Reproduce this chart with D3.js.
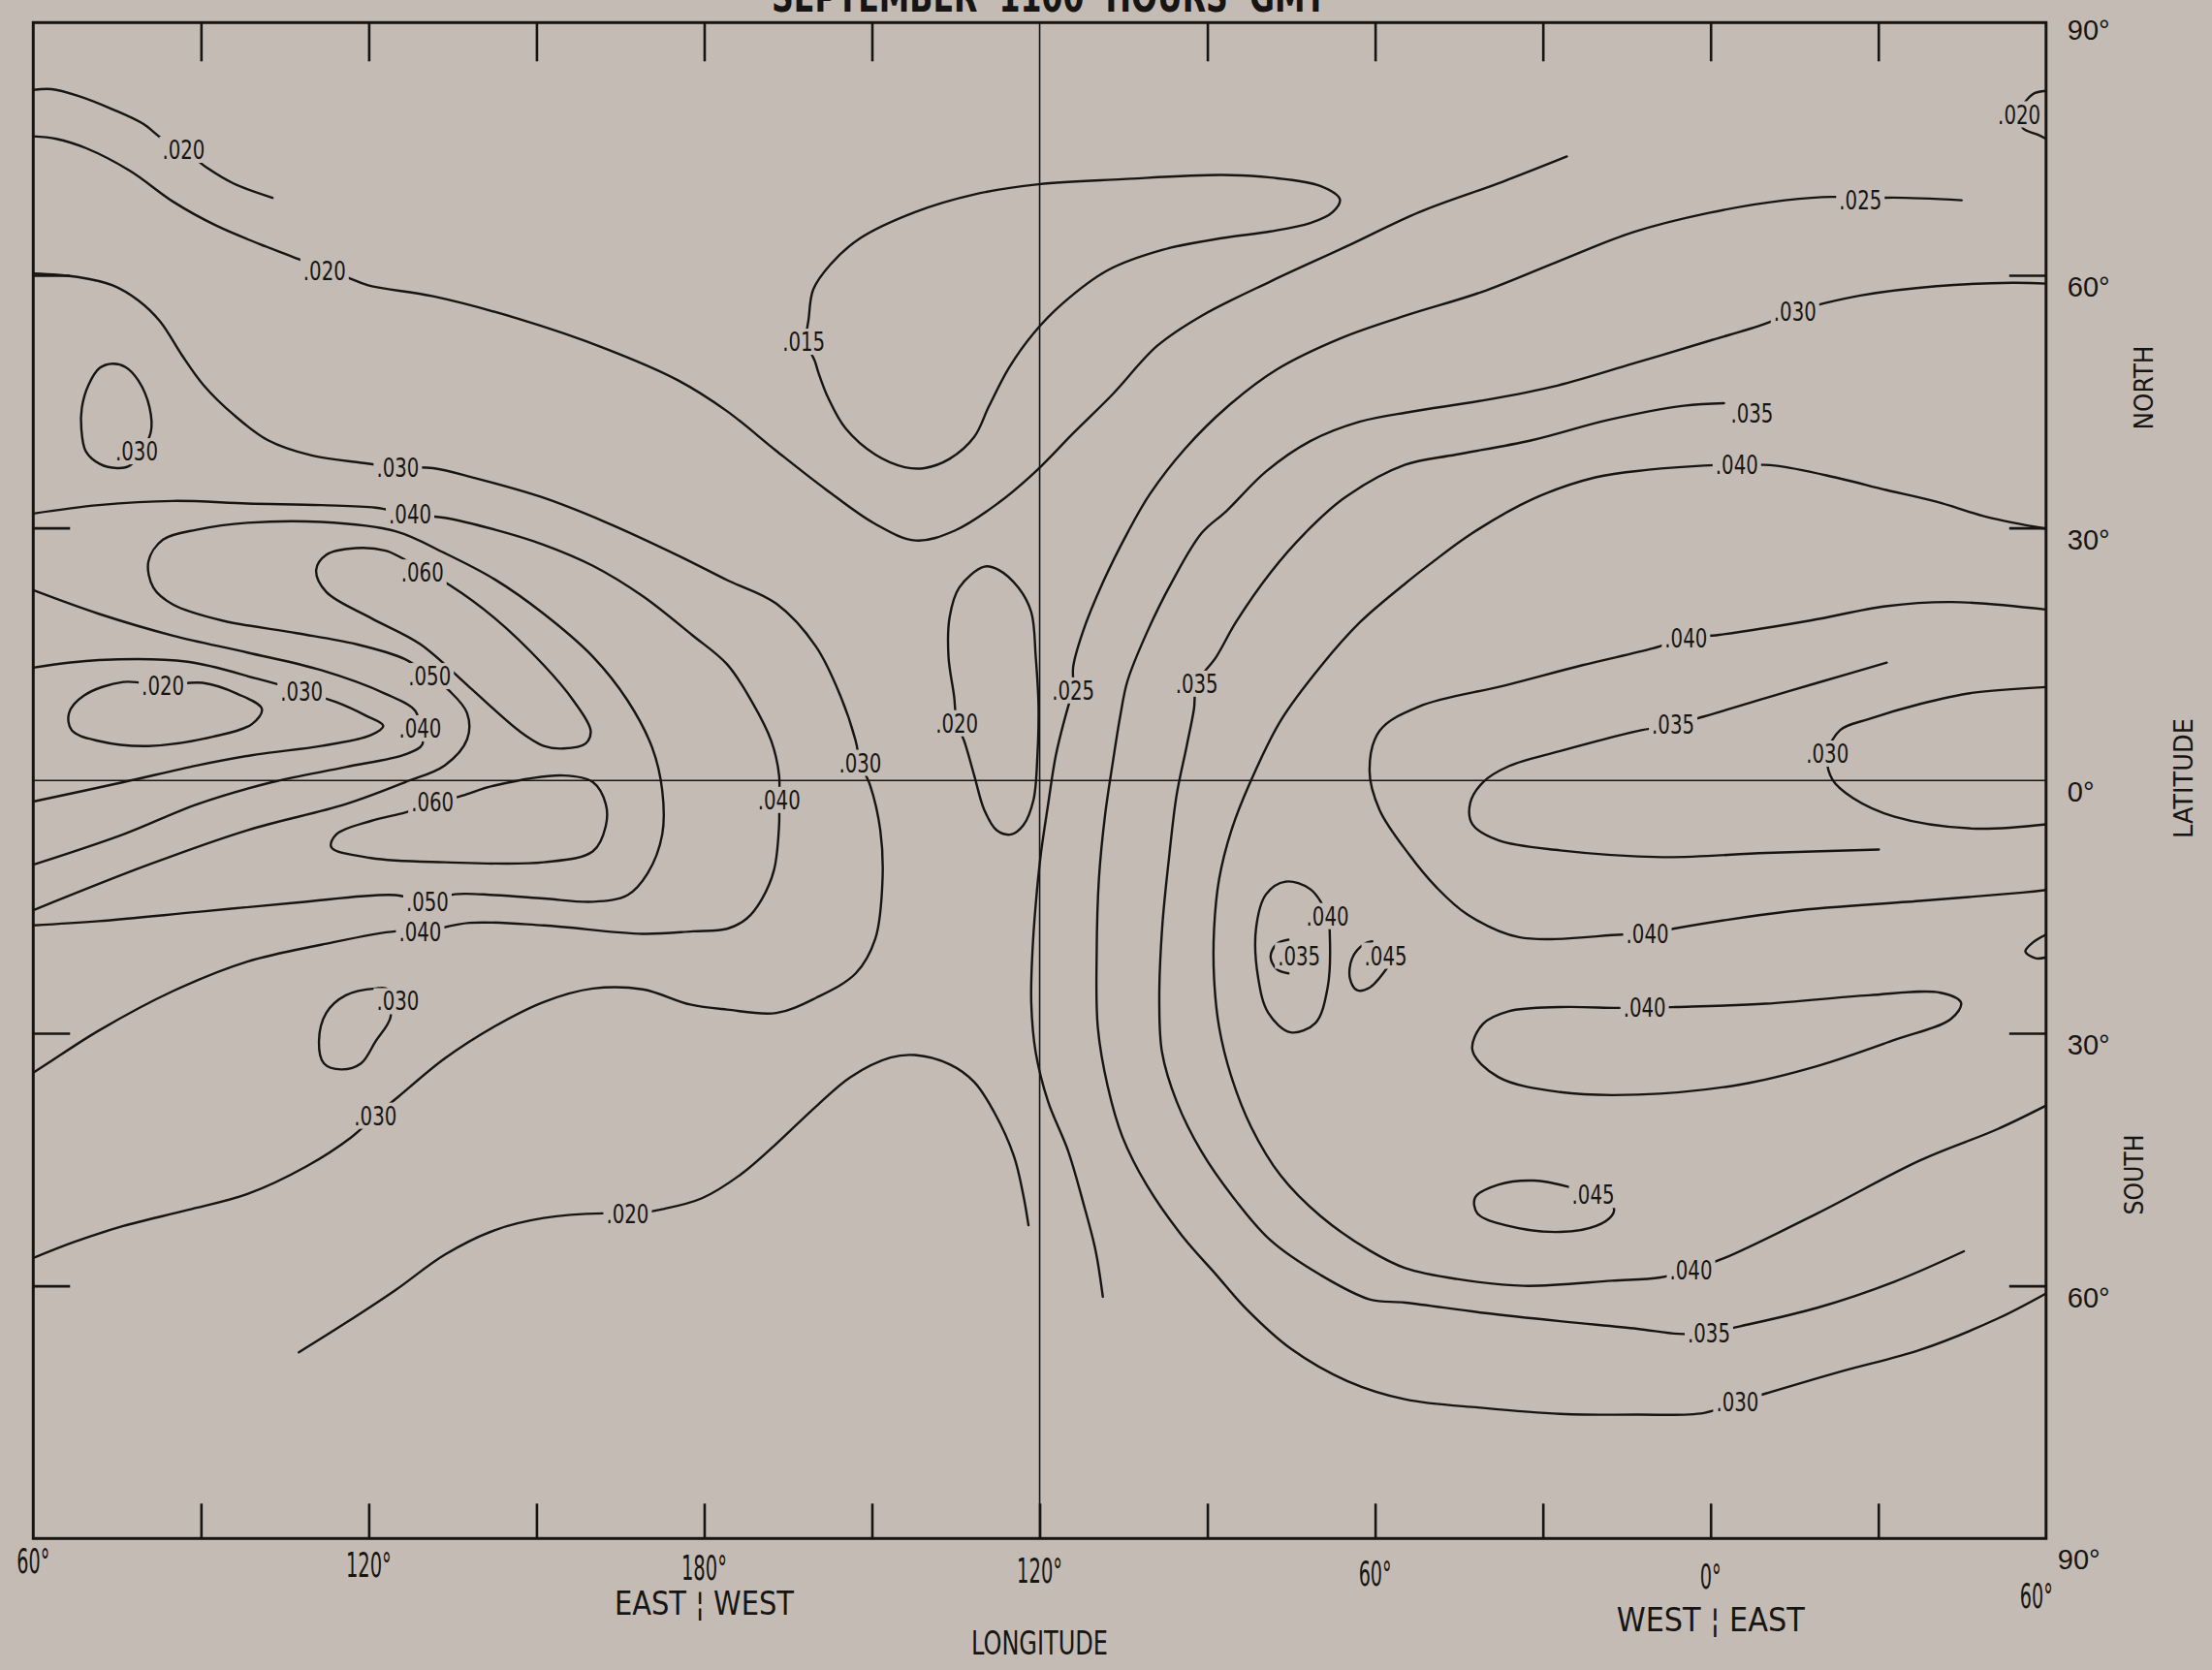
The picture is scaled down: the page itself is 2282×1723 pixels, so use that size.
<!DOCTYPE html>
<html>
<head>
<meta charset="utf-8">
<script src="https://cdn.jsdelivr.net/npm/d3@7/dist/d3.min.js"></script>
<style>
html,body{margin:0;padding:0;background:#c4bcb4;}
svg{display:block;}
</style>
</head>
<body>
<svg id="chart" width="2282" height="1723"></svg>
<script>
// ---------------- DATA (longitude = degrees east, unwrapped 60..420; latitude -90..90) ----------------
const titleText = "SEPTEMBER  1100  HOURS  GMT";
const lonTickValues = [90,120,150,180,210,240,270,300,330,360,390];
const lonLabelValues = [60,120,180,240,300,360,420];
const lonLabelText = ["60°","120°","180°","120°","60°","0°","60°"];
const latTickValues = [60,30,-30,-60];
const latLabelValues = [90,60,30,0,-30,-60,-90];
const latLabelText = ["90°","60°","30°","0°","30°","60°","90°"];

// contour polylines [lon, lat]
const c_a020 = [[60,82.0],[63.3,82.1],[68.0,81.3],[74.2,79.7],[79.6,78.0],[83.1,76.2],[86.9,74.9],[91.2,72.7],[95.8,70.9],[102.8,69.2]];
const c_b020 = [[60,76.5],[64.1,76.2],[69.4,75.1],[77.3,72.4],[85.1,68.7],[92.7,65.9],[100.5,63.7],[107.5,61.9],[112.1,60.5],[115.9,59.8],[119.9,58.8],[131.5,57.5],[146.9,54.8],[162.3,51.3],[175.4,47.5],[184.0,43.9],[192.8,39.2],[201.7,34.6],[210.5,30.5],[217.8,28.5],[224.9,29.7],[232.7,33.0],[239.3,36.7],[246.1,41.3],[253.1,45.9],[261.0,51.6],[269.0,55.2],[281.4,59.3],[294.8,63.4],[307.9,67.5],[322.8,71.1],[334.3,74.1]];
const c_c030 = [[60,60.2],[67.9,59.8],[74.2,58.8],[78.8,57.0],[82.7,54.5],[86.6,50.5],[90.4,47.0],[95.9,43.4],[102.0,40.4],[109.8,38.6],[119.1,37.7],[125.2,37.2],[131.5,37.1],[139.1,35.9],[150.7,33.7],[162.3,30.7],[175.4,26.7],[184.1,23.8],[192.9,21.0],[200.0,15.9],[204.4,10.0],[207.1,4.7],[207.9,2.1],[209.7,-0.6],[211.5,-5.9],[211.9,-11.7],[210.6,-18.8],[207.1,-22.9],[200.0,-25.8],[192.9,-27.6],[184.1,-27.2],[177.5,-26.6],[169.0,-24.8],[160.1,-24.7],[151.3,-26.3],[142.5,-29.2],[133.6,-33.0],[125.2,-37.6],[121.2,-39.8],[116.8,-42.4],[108.9,-45.8],[98.3,-49.1],[87.6,-51.0],[76.1,-52.9],[67.3,-54.8],[60,-56.7]];
const c_d030 = [[81.0,41.3],[80.8,44.3],[78.8,47.5],[76.5,49.1],[74.2,49.5],[71.9,49.0],[69.9,47.0],[68.7,44.3],[68.6,41.8],[69.4,39.1],[71.9,37.6],[75.0,37.1],[77.3,37.4]];
const c_e040 = [[60,31.7],[71.7,32.7],[85.0,33.2],[98.3,32.9],[111.5,32.7],[121.2,32.4],[127.4,31.6],[133.6,31.2],[142.5,29.8],[151.3,28.0],[160.1,25.5],[169.0,21.9],[177.8,17.3],[184.1,13.8],[188.5,9.4],[192.0,4.7],[193.4,0.6],[193.4,-2.3],[193.4,-5.3],[192.5,-10.6],[190.3,-14.1],[187.6,-16.4],[184.1,-17.6],[178.0,-17.9],[169.0,-18.2],[151.3,-17.2],[138.0,-16.9],[129.2,-18.0],[124.8,-17.9],[111.5,-19.5],[98.3,-21.5],[85.0,-25.0],[71.7,-29.7],[63.0,-33.4],[60,-34.7]];
const c_f050 = [[60,-15.4],[80.6,-10.0],[98.3,-5.9],[115.9,-2.8],[126.5,-0.2],[133.6,1.8],[137.6,4.9],[137.6,8.0],[134.5,10.6],[130.9,12.4],[126.5,14.4],[117.7,16.2],[107.1,17.5],[93.8,19.0],[85.0,20.9],[81.5,22.9],[80.6,26.0],[83.2,28.6],[89.4,29.8],[98.3,30.6],[111.5,30.7],[124.8,29.6],[133.6,27.0],[142.5,23.9],[151.3,19.8],[160.1,14.7],[166.3,9.5],[170.7,3.9],[172.5,-1.2],[172.5,-6.4],[169.9,-11.0],[166.3,-13.6],[160.1,-14.4],[151.3,-14.0],[142.5,-13.6],[135.4,-13.5],[130.5,-14.4],[124.8,-13.6],[107.1,-14.5],[89.4,-15.6],[71.7,-16.7],[60,-17.2]];
const c_g040 = [[60,22.6],[71.7,19.8],[85.0,17.2],[98.3,15.2],[111.5,13.1],[123.0,10.3],[128.3,8.3],[129.2,6.2],[129.6,4.3],[126.5,3.1],[115.9,1.6],[102.7,-0.2],[89.4,-2.8],[76.1,-6.4],[60,-10.0]];
const c_h030 = [[60,13.4],[71.7,14.3],[87.6,14.1],[100.0,12.1],[108.0,10.6],[114.2,9.3],[119.5,7.7],[122.6,6.5],[120.4,5.4],[111.5,4.1],[100.0,3.1],[89.4,1.8],[76.1,-0.2],[60,-2.5]];
const c_i020 = [[66.4,8.0],[69.1,10.1],[76.1,11.7],[83.2,11.3],[90.3,11.6],[96.5,10.3],[100.9,8.5],[99.1,6.7],[92.1,5.2],[80.6,4.1],[71.7,4.7],[66.9,5.95]];
const c_j060 = [[134.5,23.2],[142.5,19.3],[151.3,13.7],[156.6,9.5],[159.7,5.9],[158.8,4.4],[154.8,3.8],[151.3,4.1],[146.9,5.9],[138.0,11.1],[129.2,16.2],[120.4,19.3],[112.4,22.4],[110.6,25.0],[112.4,26.8],[117.7,27.6],[123.0,27.3],[125.7,26.5],[129.6,25.0]];
const c_k060 = [[136.7,-1.8],[142.5,-0.6],[154.8,0.6],[160.1,-0.2],[162.4,-2.8],[162.4,-5.4],[160.1,-8.4],[151.3,-9.7],[133.6,-9.7],[120.4,-9.2],[113.3,-7.9],[114.2,-6.4],[120.4,-4.8],[126.5,-3.8],[131.4,-2.8]];
const c_l030 = [[123.9,-28.1],[121.2,-31.0],[118.6,-33.6],[115.1,-34.3],[112.0,-33.6],[111.1,-31.0],[112.4,-27.6],[115.9,-25.5],[121.2,-24.7],[123.4,-24.8]];
const c_m020 = [[107.5,-67.9],[115.9,-64.4],[124.8,-60.5],[133.6,-56.3],[142.5,-53.4],[151.3,-51.95],[161.9,-51.4],[166.3,-51.5],[172.5,-50.9],[179.6,-49.6],[186.7,-46.7],[192.8,-43.2],[200.0,-38.7],[206.2,-35.2],[213.3,-32.9],[217.7,-32.6],[223.9,-33.7],[228.3,-35.8],[231.8,-39.3],[235.4,-44.6],[237.1,-49.3],[238.0,-52.8]];
const c_n015 = [[198.7,54.9],[199.5,58.3],[202.6,61.3],[207.9,64.4],[217.7,67.5],[228.3,69.6],[239.8,70.8],[254.8,71.4],[272.5,71.9],[281.3,71.6],[290.2,70.6],[293.7,69.0],[292.4,67.5],[288.4,66.2],[281.3,65.2],[272.5,64.4],[261.9,63.0],[252.2,60.6],[244.2,56.7],[238.9,53.1],[234.5,49.0],[230.9,44.4],[228.3,40.8],[223.9,38.2],[219.4,37.1],[215.9,37.2],[210.6,38.7],[205.3,41.8],[202.2,45.4],[200.4,48.5],[199.8,49.8],[198.3,52.1]];
const c_o020 = [[238.9,-2.3],[237.1,-5.3],[234.9,-6.4],[232.3,-5.9],[230.1,-3.5],[228.3,0.6],[226.5,4.7],[225.2,6.8],[224.7,10.0],[223.7,14.7],[223.9,19.4],[225.6,22.9],[230.1,25.4],[232.7,25.0],[236.2,22.9],[238.5,20.0],[239.3,14.7],[239.8,8.8],[239.6,3.0]];
const c_p025 = [[404.9,68.9],[391.3,69.2],[386.8,68.9],[382.3,69.3],[373.3,68.9],[359.7,67.4],[346.1,65.1],[332.6,61.6],[319.0,58.0],[305.4,55.2],[293.8,52.5],[282.4,48.8],[273.6,44.4],[266.0,39.4],[259.7,34.0],[255.7,29.4],[251.3,23.5],[247.7,17.6],[246.0,13.5],[246.0,10.7],[245.1,8.8],[242.9,3.0],[241.5,-2.9],[240.2,-8.8],[239.3,-14.7],[238.7,-20.5],[238.5,-26.4],[239.3,-32.3],[241.5,-38.1],[245.1,-44.0],[247.7,-49.9],[250.0,-55.8],[251.3,-61.3]];
const c_q030 = [[420,59.0],[414.0,59.1],[400.4,58.7],[386.8,57.6],[380.5,56.7],[375.1,55.7],[369.6,54.2],[359.7,52.2],[346.1,49.5],[332.6,46.9],[319.0,45.1],[306.5,43.8],[297.2,42.6],[288.4,40.3],[280.5,36.7],[273.4,32.0],[269.0,29.4],[263.6,23.5],[259.2,17.6],[255.7,11.8],[254.4,7.6],[253.0,1.8],[251.7,-4.1],[250.6,-11.7],[250.2,-20.5],[250.4,-29.3],[252.2,-36.4],[254.8,-42.3],[259.2,-48.1],[265.4,-54.0],[271.6,-58.7],[276.9,-62.7],[285.0,-67.5],[295.0,-71.3],[305.5,-73.5],[319.3,-74.5],[333.1,-75.2],[346.9,-75.3],[358.8,-75.1],[364.8,-73.8],[370.8,-72.6],[383.7,-70.1],[397.5,-67.6],[411.3,-63.9],[420,-60.9]];
const c_r035 = [[362.4,44.8],[355.2,44.5],[341.6,42.8],[328.0,40.4],[314.5,38.7],[305.4,37.5],[294.6,33.6],[287.5,29.4],[281.3,24.7],[275.1,18.8],[271.6,14.7],[268.1,11.5],[267.6,8.5],[266.3,4.1],[264.5,-1.7],[263.2,-8.8],[261.9,-17.6],[261.4,-26.4],[261.9,-32.3],[264.5,-38.1],[268.9,-44.0],[275.1,-49.9],[281.3,-54.6],[290.2,-58.7],[299.0,-61.6],[305.4,-62.0],[319.3,-63.2],[333.1,-64.2],[346.9,-65.1],[354.2,-65.7],[359.7,-65.6],[365.3,-64.8],[379.1,-62.6],[392.9,-59.5],[405.3,-55.9]];
const c_s040 = [[420,29.9],[409.4,31.3],[400.4,33.1],[391.4,34.5],[382.3,36.0],[371.5,37.4],[364.7,37.5],[358.8,37.4],[348.9,36.9],[339.4,36.0],[328.1,33.4],[317.2,29.3],[310.0,25.8],[305.4,23.4],[297.3,18.8],[290.2,13.5],[283.1,7.1],[277.8,0.0],[274.3,-5.9],[272.1,-11.7],[271.2,-17.6],[271.2,-23.5],[272.1,-29.3],[274.3,-35.2],[277.8,-41.1],[283.1,-46.9],[290.2,-51.7],[299.0,-55.8],[305.4,-57.9],[314.7,-59.2],[326.6,-60.0],[342.3,-59.4],[351.0,-59.0],[356.5,-58.1],[362.5,-56.7],[379.1,-51.4],[397.5,-45.1],[411.3,-41.4],[420,-38.6]];
const c_t040 = [[420,20.3],[403.1,21.2],[391.3,20.7],[377.8,19.0],[361.5,17.3],[355.6,16.9],[349.7,15.7],[337.1,13.7],[323.3,11.3],[307.9,8.8],[300.8,5.9],[299.0,1.2],[300.8,-3.5],[306.1,-8.8],[311.0,-12.7],[316.5,-15.9],[325.7,-18.6],[344.1,-18.3],[348.7,-18.2],[353.3,-17.6],[374.4,-15.5],[397.4,-14.3],[415.8,-13.3],[420,-13.0]];
const c_u035 = [[391.5,14.0],[379.1,11.6],[369.9,9.8],[358.8,7.6],[353.3,6.6],[347.8,6.0],[333.1,3.5],[323.9,1.7],[319.3,-0.2],[317.0,-2.7],[317.4,-5.2],[322.0,-7.1],[333.1,-8.3],[351.4,-9.1],[369.9,-8.6],[390.1,-8.2]];
const c_v030 = [[420,11.1],[406.7,10.4],[397.5,9.1],[388.3,7.3],[383.2,6.0],[380.9,3.2],[381.8,0.1],[385.5,-2.1],[392.9,-4.3],[406.7,-5.7],[420,-5.2]];
const c_w040 = [[353.8,-26.9],[369.9,-26.5],[388.3,-25.5],[401.1,-25.2],[404.8,-26.4],[403.0,-28.3],[392.9,-30.8],[379.1,-33.9],[365.3,-36.1],[346.9,-37.3],[333.1,-37.0],[322.0,-35.2],[317.4,-32.0],[319.3,-28.9],[323.9,-27.4],[333.1,-26.9],[343.2,-27.0],[348.2,-27.0]];
const c_x040 = [[420,-18.3],[417.7,-19.2],[416.3,-20.3],[418.1,-21.1],[420,-21.0]];
const c_y045 = [[334.9,-48.3],[328.4,-47.5],[322.0,-48.0],[317.9,-49.5],[318.3,-51.4],[323.9,-52.9],[333.1,-53.6],[339.5,-52.9],[342.3,-51.7],[342.7,-50.8],[339.0,-49.2]];
const c_z040 = [[288.4,-12.9],[284.0,-12.0],[280.5,-13.5],[278.7,-17.6],[279.1,-23.5],[280.9,-27.6],[284.9,-29.9],[289.3,-28.8],[291.5,-24.6],[291.9,-18.5],[291.5,-16.1]];
const c_z035 = [[284.5,-18.9],[282.4,-19.4],[281.3,-20.9],[282.4,-22.4],[284.5,-22.9]];
const c_z045 = [[299.5,-19.1],[298.1,-19.4],[295.9,-21.1],[295.5,-23.5],[296.8,-24.9],[299.0,-24.6],[302.1,-22.3]];
const c_top020 = [[420,81.9],[417.6,81.5],[415.5,79.6],[415.8,77.5],[418.5,76.7],[420,76.2]];

const contours = [
  {level:0.020, closed:false, pts:c_a020},
  {level:0.020, closed:false, pts:c_b020},
  {level:0.030, closed:false, pts:c_c030},
  {level:0.030, closed:true,  pts:c_d030},
  {level:0.040, closed:false, pts:c_e040},
  {level:0.050, closed:false, pts:c_f050},
  {level:0.040, closed:false, pts:c_g040},
  {level:0.030, closed:false, pts:c_h030},
  {level:0.020, closed:true,  pts:c_i020},
  {level:0.060, closed:true,  pts:c_j060},
  {level:0.060, closed:true,  pts:c_k060},
  {level:0.030, closed:true,  pts:c_l030},
  {level:0.020, closed:false, pts:c_m020},
  {level:0.015, closed:true,  pts:c_n015},
  {level:0.020, closed:true,  pts:c_o020},
  {level:0.025, closed:false, pts:c_p025},
  {level:0.030, closed:false, pts:c_q030},
  {level:0.035, closed:false, pts:c_r035},
  {level:0.040, closed:false, pts:c_s040},
  {level:0.040, closed:false, pts:c_t040},
  {level:0.035, closed:false, pts:c_u035},
  {level:0.030, closed:false, pts:c_v030},
  {level:0.040, closed:true,  pts:c_w040},
  {level:0.040, closed:false, pts:c_x040},
  {level:0.045, closed:true,  pts:c_y045},
  {level:0.040, closed:true,  pts:c_z040},
  {level:0.035, closed:false, pts:c_z035},
  {level:0.045, closed:false, pts:c_z045},
  {level:0.020, closed:false, pts:c_top020}
];

// contour labels [lon, lat, text]
const labels = [
  [86.9,74.9,".020"],[112.1,60.5,".020"],[78.5,39.1,".030"],[125.2,37.2,".030"],
  [127.4,31.6,".040"],[129.6,24.7,".060"],[130.9,12.4,".050"],[83.2,11.3,".020"],
  [108.0,10.6,".030"],[129.2,6.2,".040"],[131.4,-2.5,".060"],[130.5,-14.4,".050"],
  [129.2,-18.0,".040"],[125.2,-26.2,".030"],[121.2,-39.8,".030"],[166.3,-51.5,".020"],
  [197.8,52.1,".015"],[193.4,-2.3,".040"],[207.9,2.1,".030"],[225.2,6.8,".020"],
  [246.0,10.7,".025"],[268.1,11.5,".035"],[291.5,-16.1,".040"],[286.4,-20.8,".035"],
  [301.9,-20.8,".045"],[415.2,79.1,".020"],[386.8,68.9,".025"],[375.1,55.7,".030"],
  [367.4,43.6,".035"],[364.7,37.5,".040"],[355.6,16.9,".040"],[353.3,6.6,".035"],
  [380.9,3.2,".030"],[348.7,-18.2,".040"],[348.2,-27.0,".040"],[339.0,-49.2,".045"],
  [356.5,-58.1,".040"],[359.7,-65.6,".035"],[364.8,-73.8,".030"]
];

// ---------------- DRAWING ----------------
const W = 2282, H = 1723;
const BG = "#c4bcb4", INK = "#171513";
const COND = "'Liberation Sans Narrow','DejaVu Sans Condensed','Roboto Condensed','Liberation Sans',Arial,sans-serif";
const REG = "'Liberation Sans',Arial,'DejaVu Sans',sans-serif";
const plot = {left:34.3, right:2110.8, top:23.3, bottom:1587.3};

const x = d3.scaleLinear().domain([60,420]).range([plot.left, plot.right]);
const y = d3.scaleLinear().domain([90,-90]).range([plot.top, plot.bottom]);

const svg = d3.select("#chart");
svg.append("rect").attr("width",W).attr("height",H).attr("fill",BG);

// title (mostly cut off at top edge in the original)
svg.append("text").attr("x",1082).attr("y",12)
  .attr("text-anchor","middle").attr("font-family",COND).attr("font-weight","bold")
  .attr("font-size",44).attr("fill",INK).style("white-space","pre")
  .attr("textLength",572).attr("lengthAdjust","spacingAndGlyphs").text(titleText);

const defs = svg.append("defs");
defs.append("clipPath").attr("id","plotclip").append("rect")
  .attr("x",plot.left).attr("y",plot.top)
  .attr("width",plot.right-plot.left).attr("height",plot.bottom-plot.top);

// reference lines: 120°W meridian and equator
svg.append("line").attr("x1",x(240)).attr("x2",x(240)).attr("y1",plot.top).attr("y2",plot.bottom)
  .attr("stroke",INK).attr("stroke-width",1.6);
svg.append("line").attr("x1",plot.left).attr("x2",plot.right).attr("y1",y(0)).attr("y2",y(0))
  .attr("stroke",INK).attr("stroke-width",1.5);

// contours
const openLine = d3.line().x(d=>x(d[0])).y(d=>y(d[1])).curve(d3.curveCatmullRom.alpha(0.5));
const closedLine = d3.line().x(d=>x(d[0])).y(d=>y(d[1])).curve(d3.curveCatmullRomClosed.alpha(0.5));
svg.append("g").attr("clip-path","url(#plotclip)")
  .selectAll("path").data(contours).join("path")
  .attr("d", d => (d.closed ? closedLine : openLine)(d.pts))
  .attr("fill","none").attr("stroke",INK).attr("stroke-width",2.4)
  .attr("stroke-linejoin","round").attr("stroke-linecap","round");

// contour labels with paper-coloured gap
const lg = svg.append("g");
labels.forEach(([lon,lat,t]) => {
  const g = lg.append("g");
  const r = g.append("rect").attr("fill",BG);
  const tx = g.append("text").attr("x",x(lon)).attr("y",y(lat))
    .attr("text-anchor","middle").attr("dominant-baseline","central")
    .attr("font-family",COND).attr("font-size",27).attr("fill",INK)
    .attr("textLength",44).attr("lengthAdjust","spacingAndGlyphs").text(t);
  const b = tx.node().getBBox();
  r.attr("x",b.x-3).attr("y",b.y+2).attr("width",b.width+6).attr("height",b.height-4);
});

// frame
svg.append("rect").attr("x",plot.left).attr("y",plot.top)
  .attr("width",plot.right-plot.left).attr("height",plot.bottom-plot.top)
  .attr("fill","none").attr("stroke",INK).attr("stroke-width",3);

// ticks via d3 axes
const styleAxis = g => { g.select(".domain").remove(); g.selectAll("line").attr("stroke",INK).attr("stroke-width",2.6); g.selectAll("text").remove(); };
svg.append("g").attr("transform",`translate(0,${plot.top})`)
  .call(d3.axisBottom(x).tickValues(lonTickValues.filter(v=>v!==240)).tickSize(40).tickFormat("")).call(styleAxis);
svg.append("g").attr("transform",`translate(0,${plot.bottom})`)
  .call(d3.axisTop(x).tickValues(lonTickValues).tickSize(36).tickFormat("")).call(styleAxis);
svg.append("g").attr("transform",`translate(${plot.left},0)`)
  .call(d3.axisRight(y).tickValues(latTickValues).tickSize(38).tickFormat("")).call(styleAxis);
svg.append("g").attr("transform",`translate(${plot.right},0)`)
  .call(d3.axisLeft(y).tickValues(latTickValues).tickSize(38).tickFormat("")).call(styleAxis);

// longitude labels (bottom)
const lonW = t => t.length === 4 ? 47 : (t.length === 3 ? 34 : 22);
const midX = (plot.left+plot.right)/2;
lonLabelValues.forEach((v,i) => {
  const t = lonLabelText[i];
  const last = (i === lonLabelValues.length-1);
  const cx = x(v) - (last ? 10 : 0);
  const cy = plot.bottom + (last ? 50 : 33) + (cx-midX)*0.009;
  svg.append("text").attr("x",cx).attr("y",cy).attr("text-anchor","middle").attr("dominant-baseline","central")
    .attr("font-family",COND).attr("font-size",36).attr("fill",INK)
    .attr("textLength",lonW(t)).attr("lengthAdjust","spacingAndGlyphs").text(t);
});
const subLabels = [
  {lon:180, dy:70, text:"EAST ¦ WEST", w:185},
  {lon:240, dy:108, text:"LONGITUDE", w:141},
  {lon:360, dy:77, text:"WEST ¦ EAST", w:194}
];
subLabels.forEach(s => {
  const cx = x(s.lon);
  svg.append("text").attr("x",cx).attr("y",plot.bottom + s.dy + (cx-midX)*0.009)
    .attr("text-anchor","middle").attr("dominant-baseline","central")
    .attr("font-family",COND).attr("font-size",34).attr("fill",INK)
    .attr("textLength",s.w).attr("lengthAdjust","spacingAndGlyphs").text(s.text);
});

// latitude labels (right)
latLabelValues.forEach((v,i) => {
  const bottomOne = (v === -90);
  svg.append("text").attr("x", plot.right + (bottomOne ? 12 : 22))
    .attr("y", y(v) + (bottomOne ? 22 : (v===90 ? 8 : 12)))
    .attr("dominant-baseline","central").attr("font-family",REG).attr("font-size",29).attr("fill",INK)
    .text(latLabelText[i]);
});
const sideLabels = [
  {x:2211, y:400, text:"NORTH", w:87},
  {x:2252, y:803, text:"LATITUDE", w:124},
  {x:2201, y:1212, text:"SOUTH", w:83}
];
sideLabels.forEach(s => {
  svg.append("text").attr("transform",`translate(${s.x},${s.y}) rotate(-90)`)
    .attr("text-anchor","middle").attr("dominant-baseline","central")
    .attr("font-family",COND).attr("font-size",27).attr("fill",INK)
    .attr("textLength",s.w).attr("lengthAdjust","spacingAndGlyphs").text(s.text);
});
</script>
</body>
</html>
